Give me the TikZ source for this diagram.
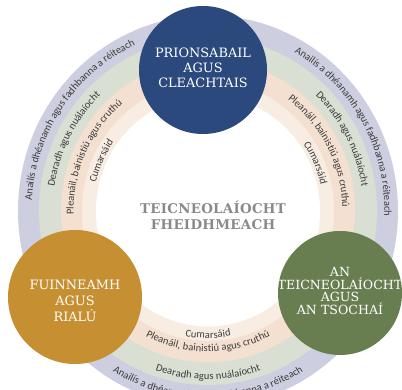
\documentclass[tikz,border=0pt]{standalone}
\usepackage{fontspec}
\setmainfont{DejaVu Serif}
\newfontfamily\arcfont{Carlito}
\newfontfamily\headfont{DejaVu Serif}
\usetikzlibrary{decorations.text}
\definecolor{bandpurple}{HTML}{CDCFE0}
\definecolor{bandgreen}{HTML}{D9DFD3}
\definecolor{bandpeach}{HTML}{F4E0D0}
\definecolor{bandlight}{HTML}{F8EDE3}
\definecolor{cblue}{HTML}{2B497C}
\definecolor{corange}{HTML}{C68F32}
\definecolor{cgreen}{HTML}{687E50}
\definecolor{arctext}{HTML}{3C3C3C}
\definecolor{centertext}{HTML}{8A8A8A}
\newcommand\arcfmt{\arcfont\fontsize{10.5}{12}\selectfont\color{arctext}}
\begin{document}
\begin{tikzpicture}[x=1pt,y=1pt,
  arclabel/.style={decorate, decoration={text along path, text align=center, raise=-2.6pt}},
  bigcircle/.style={circle, inner sep=0pt},
  headtext/.style={text=white, align=center, font=\headfont\fontsize{12.9}{15}\selectfont}]
\useasboundingbox (0,0) rectangle (402,390);
\coordinate (C) at (208,179);
\fill[bandpurple] (C) ellipse [x radius=190, y radius=195.7];
\fill[bandgreen] (C) ellipse [x radius=169, y radius=174];
\fill[bandpeach] (C) ellipse [x radius=147, y radius=151.4];
\fill[bandlight] (C) ellipse [x radius=126, y radius=129.8];
\fill[white] (C) ellipse [x radius=112, y radius=115.4];
% left arcs (clockwise, upward)
\path[arclabel, decoration={text={|\arcfmt|Anailís a dhéanamh agus fadhbanna a réiteach}}]
  ([shift={(215:179 and 184.4)}]C) arc[start angle=215, end angle=75, x radius=179, y radius=184.4];
\path[arclabel, decoration={text={|\arcfmt|Dearadh agus nuálaíocht}}]
  ([shift={(222:158 and 162.7)}]C) arc[start angle=222, end angle=82, x radius=158, y radius=162.7];
\path[arclabel, decoration={text={|\arcfmt|Pleanáil, bainistiú agus cruthú}}]
  ([shift={(225:137 and 141.1)}]C) arc[start angle=225, end angle=85, x radius=137, y radius=141.1];
\path[arclabel, decoration={text={|\arcfmt|Cumarsáid}}]
  ([shift={(225:118 and 121.5)}]C) arc[start angle=225, end angle=85, x radius=118, y radius=121.5];
% right arcs (clockwise, downward)
\path[arclabel, decoration={text={|\arcfmt|Anailís a dhéanamh agus fadhbanna a réiteach}}]
  ([shift={(100:179 and 184.4)}]C) arc[start angle=100, end angle=-40, x radius=179, y radius=184.4];
\path[arclabel, decoration={text={|\arcfmt|Dearadh agus nuálaíocht}}]
  ([shift={(98:158 and 162.7)}]C) arc[start angle=98, end angle=-42, x radius=158, y radius=162.7];
\path[arclabel, decoration={text={|\arcfmt|Pleanáil, bainistiú agus cruthú}}]
  ([shift={(98:137 and 141.1)}]C) arc[start angle=98, end angle=-42, x radius=137, y radius=141.1];
\path[arclabel, decoration={text={|\arcfmt|Cumarsáid}}]
  ([shift={(94:118 and 121.5)}]C) arc[start angle=94, end angle=-46, x radius=118, y radius=121.5];
% bottom arcs (counter-clockwise)
\path[arclabel, decoration={text={|\arcfmt|Anailís a dhéanamh agus fadhbanna a réiteach}}]
  ([shift={(200:180 and 185.4)}]C) arc[start angle=200, end angle=340, x radius=180, y radius=185.4];
\path[arclabel, decoration={text={|\arcfmt|Dearadh agus nuálaíocht}}]
  ([shift={(200:161 and 165.8)}]C) arc[start angle=200, end angle=340, x radius=161, y radius=165.8];
\path[arclabel, decoration={text={|\arcfmt|Pleanáil, bainistiú agus cruthú}}]
  ([shift={(200:134 and 138)}]C) arc[start angle=200, end angle=340, x radius=134, y radius=138];
\path[arclabel, decoration={text={|\arcfmt|Cumarsáid}}]
  ([shift={(200:121 and 124.6)}]C) arc[start angle=200, end angle=340, x radius=121, y radius=124.6];
% circles
\node[bigcircle, fill=cblue, minimum size=128pt] (prin) at (203,320) {};
\node[headtext] (printext) at (203,322) {PRIONSABAIL\\AGUS\\CLEACHTAIS};
\node[bigcircle, fill=corange, minimum size=134pt] (fuin) at (75,93) {};
\node[headtext, font=\headfont\fontsize{12.9}{16}\selectfont] (fuintext) at (75,89) {FUINNEAMH\\AGUS\\RIALÚ};
\node[bigcircle, fill=cgreen, minimum size=124pt] (tsoc) at (340,97) {};
\node[headtext, font=\headfont\fontsize{12.6}{12.8}\selectfont] (tsoctext) at (340,99) {AN\\TEICNEOLAÍOCHT\\AGUS\\AN TSOCHAÍ};
\node[align=center, text=centertext, font=\headfont\bfseries\fontsize{13.4}{16}\selectfont\addfontfeature{LetterSpace=2}] (center) at (213,175) {TEICNEOLAÍOCHT\\FHEIDHMEACH};
\end{tikzpicture}
\end{document}
